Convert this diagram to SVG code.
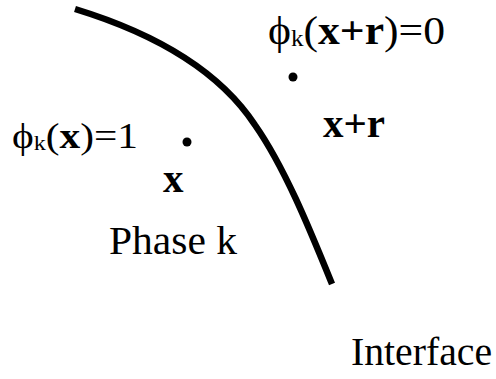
<svg xmlns="http://www.w3.org/2000/svg" width="496" height="379" viewBox="0 0 496 379">
<style>
.t{font-family:"Liberation Serif","Times New Roman",serif;fill:#000}
.b{font-weight:bold}
.curve{fill:none;stroke:#000;stroke-width:6.5}
.dot{fill:#000}
</style>
<rect width="496" height="379" fill="#fff"/>
<g id="interface-curve">
<path class="curve" d="M75,9 C160,35 220,72 255,125 C285,168 310,230 332,284"/>
</g>
<g id="point-x">
<circle class="dot" cx="187" cy="142" r="4.5"/>
<text class="t" x="12" y="148" font-size="36" textLength="126" lengthAdjust="spacingAndGlyphs">ϕ<tspan font-size="21" dy="2">k</tspan><tspan dy="-2">(</tspan><tspan class="b">x</tspan>)=1</text>
<text class="t b" x="163" y="192" font-size="41">x</text>
</g>
<g id="point-xr">
<circle class="dot" cx="293" cy="77" r="4.5"/>
<text class="t" x="268" y="44" font-size="40" textLength="177" lengthAdjust="spacingAndGlyphs">ϕ<tspan font-size="23" dy="2">k</tspan><tspan dy="-2">(</tspan><tspan class="b">x+r</tspan>)=0</text>
<text class="t b" x="323" y="137" font-size="41">x+r</text>
</g>
<g id="labels">
<text class="t" x="109" y="254" font-size="41" textLength="128" lengthAdjust="spacingAndGlyphs">Phase k</text>
<text class="t" x="351" y="365" font-size="40" textLength="141" lengthAdjust="spacingAndGlyphs">Interface</text>
</g>
</svg>
